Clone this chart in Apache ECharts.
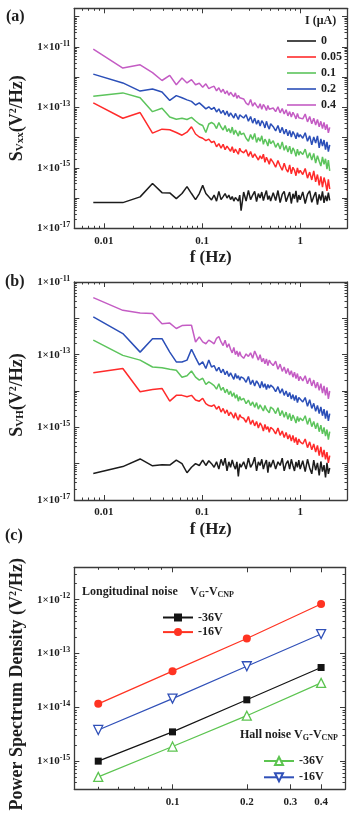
<!DOCTYPE html>
<html><head><meta charset="utf-8">
<script src="https://cdn.jsdelivr.net/npm/echarts@6/dist/echarts.min.js"></script>
<style>html,body{margin:0;padding:0;background:#fff}#c{width:349px;height:815px}</style>
</head><body><div id="c"></div>
<script>
// ---------- data ----------
// frequency bins (Hz) shared by panels (a) and (b)
const FREQ = [
  0.0078,0.0156,0.0234,0.0313,0.0391,0.0469,0.0547,0.0625,0.0703,0.0781,0.0859,0.0938,0.1016,0.1094,0.1172,0.125,
  0.1328,0.1406,0.1484,0.1563,0.1641,0.1719,0.1797,0.1875,0.1953,0.2031,0.2109,0.2188,0.2266,0.2344,0.2422,0.25,
  0.2656,0.2813,0.2969,0.3125,0.3281,0.3438,0.3594,0.375,0.3906,0.4063,0.4219,0.4375,0.4531,0.4688,0.4844,0.5,
  0.5313,0.5625,0.5938,0.625,0.6563,0.6875,0.7188,0.75,0.7813,0.8125,0.8438,0.875,0.9063,0.9375,0.9688,1.0,
  1.0625,1.125,1.1875,1.25,1.3125,1.375,1.4375,1.5,1.5625,1.625,1.6875,1.75,1.8125,1.875,1.9375,2.0];

// panel (a): log10 of S_Vxx (V^2/Hz) for each current
const A_I0 = [
  -16.15,-16.15,-15.96,-15.52,-15.82,-15.83,-16.02,-15.85,-15.62,-15.85,-16.05,-15.85,-15.58,-15.85,-15.96,-16.06,
  -15.9,-16.1,-15.78,-16.05,-15.95,-15.85,-16.0,-15.9,-16.05,-15.95,-16.1,-15.98,-16.0,-16.1,-15.9,-16.42,
  -15.8,-16.1,-15.75,-16.05,-15.9,-15.78,-16.12,-15.85,-16.0,-15.8,-16.08,-15.9,-15.75,-16.05,-15.92,-16.1,
  -15.82,-16.08,-15.75,-16.15,-15.88,-15.78,-16.12,-15.95,-15.8,-16.18,-15.86,-16.02,-15.76,-16.14,-15.9,-16.06,
  -15.8,-16.18,-15.88,-15.76,-16.14,-15.95,-15.8,-16.22,-15.88,-16.08,-15.78,-16.16,-15.92,-16.1,-15.82,-16.08];
const A_I005 = [
  -12.85,-13.36,-13.17,-13.85,-13.72,-13.74,-13.83,-13.92,-13.82,-13.64,-13.88,-13.98,-14.02,-14.1,-14.05,-14.16,
  -14.12,-14.3,-14.2,-14.35,-14.22,-14.4,-14.28,-14.33,-14.45,-14.3,-14.5,-14.38,-14.42,-14.55,-14.35,-14.45,
  -14.5,-14.4,-14.62,-14.46,-14.66,-14.54,-14.5,-14.74,-14.6,-14.7,-14.55,-14.82,-14.65,-14.76,-14.88,-14.7,
  -14.82,-14.98,-14.76,-14.94,-15.08,-14.85,-15.04,-15.14,-14.9,-15.2,-14.98,-15.08,-15.26,-15.0,-15.18,-15.08,
  -15.22,-15.02,-15.34,-15.14,-15.4,-15.1,-15.46,-15.22,-15.58,-15.28,-15.64,-15.32,-15.5,-15.76,-15.38,-15.7];
const A_I01 = [
  -12.63,-12.52,-12.68,-13.14,-13.03,-13.32,-13.39,-13.36,-13.4,-13.33,-13.45,-13.55,-13.6,-13.83,-13.55,-13.5,
  -13.55,-13.7,-13.5,-13.65,-13.75,-13.6,-13.8,-13.7,-13.85,-13.65,-13.9,-13.75,-13.8,-13.95,-13.78,-13.9,
  -13.85,-14.02,-14.12,-13.9,-14.06,-13.86,-14.16,-14.0,-14.12,-13.94,-14.22,-14.05,-14.14,-14.28,-14.04,-14.2,
  -14.1,-14.32,-14.18,-14.38,-14.14,-14.42,-14.26,-14.48,-14.28,-14.54,-14.34,-14.44,-14.62,-14.38,-14.58,-14.46,
  -14.56,-14.38,-14.68,-14.5,-14.74,-14.52,-14.84,-14.6,-14.78,-14.94,-14.64,-14.88,-14.7,-15.04,-14.74,-15.1];
const A_I02 = [
  -11.9,-12.19,-12.46,-12.39,-12.49,-12.77,-12.61,-12.68,-12.75,-12.8,-12.92,-12.85,-12.95,-13.05,-12.98,-13.07,
  -13.0,-13.15,-13.05,-13.2,-13.1,-13.25,-13.12,-13.3,-13.18,-13.22,-13.35,-13.2,-13.3,-13.4,-13.25,-13.28,
  -13.35,-13.24,-13.46,-13.3,-13.52,-13.36,-13.56,-13.42,-13.62,-13.44,-13.52,-13.68,-13.46,-13.62,-13.72,-13.54,
  -13.64,-13.78,-13.6,-13.84,-13.66,-13.88,-13.72,-13.94,-13.76,-13.98,-13.8,-13.9,-14.04,-13.84,-13.98,-13.9,
  -14.02,-13.84,-14.12,-13.94,-14.24,-13.98,-14.18,-13.94,-14.34,-14.04,-14.28,-14.08,-14.4,-14.14,-14.46,-14.24];
const A_I04 = [
  -11.07,-11.7,-11.59,-11.85,-12.11,-11.94,-12.25,-12.03,-12.19,-12.08,-12.25,-12.2,-12.33,-12.22,-12.38,-12.33,
  -12.3,-12.45,-12.35,-12.5,-12.4,-12.55,-12.45,-12.6,-12.5,-12.55,-12.65,-12.52,-12.7,-12.6,-12.68,-12.63,
  -12.72,-12.86,-12.92,-12.74,-12.96,-12.84,-12.94,-13.02,-12.88,-13.06,-12.9,-12.98,-13.1,-12.94,-13.06,-13.0,
  -13.02,-13.14,-12.98,-13.18,-13.04,-13.22,-13.08,-13.28,-13.14,-13.32,-13.16,-13.26,-13.38,-13.2,-13.34,-13.28,
  -13.38,-13.22,-13.48,-13.3,-13.54,-13.36,-13.58,-13.4,-13.64,-13.46,-13.7,-13.5,-13.74,-13.56,-13.84,-13.66];

// panel (b): log10 of S_VH (V^2/Hz)
const B_I0 = [
  -16.27,-16.08,-15.87,-16.06,-16.03,-16.04,-15.9,-16.0,-16.25,-16.1,-16.0,-16.05,-15.9,-16.05,-15.92,-16.0,
  -16.1,-15.95,-16.15,-15.88,-16.05,-15.85,-16.2,-15.95,-16.1,-15.9,-16.05,-16.15,-15.95,-16.35,-16.0,-16.1,
  -15.95,-16.15,-15.85,-16.1,-16.0,-15.82,-16.2,-15.95,-16.05,-15.88,-16.15,-16.0,-15.9,-16.25,-15.95,-16.1,
  -15.9,-16.15,-15.95,-16.05,-15.85,-16.2,-16.0,-15.92,-16.15,-15.88,-16.05,-16.2,-15.95,-16.1,-15.9,-16.15,
  -15.92,-16.22,-15.88,-16.12,-16.28,-15.9,-16.18,-15.98,-16.32,-15.94,-16.22,-16.04,-16.38,-15.98,-16.28,-16.12];
const B_I005 = [
  -13.5,-13.38,-14.02,-13.96,-13.93,-14.28,-14.12,-14.12,-14.16,-14.12,-14.25,-14.28,-14.2,-14.35,-14.4,-14.42,
  -14.38,-14.5,-14.42,-14.58,-14.48,-14.62,-14.52,-14.68,-14.58,-14.65,-14.75,-14.6,-14.72,-14.8,-14.65,-14.72,
  -14.75,-14.86,-14.7,-14.92,-14.8,-14.96,-14.84,-15.02,-14.88,-14.96,-15.1,-14.92,-15.06,-14.98,-15.14,-15.0,
  -15.06,-15.18,-15.02,-15.22,-15.1,-15.28,-15.14,-15.32,-15.2,-15.38,-15.22,-15.42,-15.28,-15.48,-15.32,-15.4,
  -15.46,-15.32,-15.56,-15.4,-15.62,-15.46,-15.68,-15.5,-15.78,-15.54,-15.82,-15.62,-15.88,-15.68,-15.98,-15.78];
const B_I01 = [
  -12.6,-13.02,-13.15,-13.34,-13.36,-13.4,-13.43,-13.62,-13.58,-13.45,-13.62,-13.7,-13.65,-13.82,-13.75,-13.8,
  -13.85,-13.95,-13.8,-13.98,-13.9,-14.05,-13.95,-14.1,-14.0,-14.15,-14.05,-14.2,-14.1,-14.28,-14.15,-14.25,
  -14.2,-14.35,-14.25,-14.4,-14.3,-14.45,-14.32,-14.5,-14.38,-14.42,-14.55,-14.4,-14.5,-14.45,-14.6,-14.44,
  -14.5,-14.62,-14.46,-14.68,-14.54,-14.72,-14.58,-14.78,-14.62,-14.82,-14.66,-14.76,-14.88,-14.7,-14.84,-14.74,
  -14.82,-14.68,-14.92,-14.74,-14.98,-14.84,-15.04,-14.88,-15.12,-14.94,-15.18,-15.0,-15.24,-15.06,-15.34,-15.12];
const B_I02 = [
  -11.96,-12.42,-12.93,-12.56,-12.56,-12.93,-13.2,-13.2,-13.15,-12.85,-13.08,-13.28,-13.2,-13.38,-13.15,-13.34,
  -13.3,-13.45,-13.35,-13.5,-13.4,-13.55,-13.45,-13.6,-13.5,-13.55,-13.68,-13.52,-13.65,-13.58,-13.7,-13.61,
  -13.65,-13.76,-13.6,-13.82,-13.7,-13.86,-13.72,-13.8,-13.92,-13.74,-13.9,-13.8,-13.96,-13.82,-13.92,-13.84,
  -13.9,-14.02,-13.88,-14.06,-13.94,-14.12,-14.0,-14.16,-14.04,-14.22,-14.1,-14.26,-14.12,-14.32,-14.18,-14.22,
  -14.3,-14.18,-14.42,-14.24,-14.48,-14.34,-14.56,-14.4,-14.62,-14.44,-14.68,-14.5,-14.76,-14.54,-14.82,-14.62];
const B_I04 = [
  -11.43,-11.78,-11.85,-11.87,-12.15,-12.13,-12.28,-12.2,-12.19,-12.19,-12.65,-12.51,-12.65,-12.7,-12.6,-12.65,
  -12.7,-12.55,-12.5,-12.65,-12.75,-12.6,-12.8,-12.7,-12.85,-12.95,-12.8,-13.0,-12.9,-13.05,-12.92,-13.03,
  -13.1,-12.98,-13.05,-12.95,-13.1,-12.9,-13.02,-13.15,-13.0,-13.2,-13.1,-13.25,-13.12,-13.3,-13.15,-13.22,
  -13.3,-13.18,-13.4,-13.26,-13.46,-13.34,-13.52,-13.38,-13.56,-13.44,-13.62,-13.48,-13.66,-13.52,-13.72,-13.6,
  -13.72,-13.58,-13.8,-13.64,-13.86,-13.7,-13.92,-13.76,-13.98,-13.8,-14.06,-13.86,-14.12,-13.9,-14.22,-14.0];

const CURRENT_NAMES = ['0', '0.05', '0.1', '0.2', '0.4'];

// panel (c): power spectrum density vs current (uA)
const C_CURRENT = [0.05, 0.1, 0.2, 0.4];
const C_LONG_36 = [1.0e-15, 3.5e-15, 1.38e-14, 5.5e-14];
const C_LONG_16 = [1.16e-14, 4.7e-14, 1.9e-13, 8.3e-13];
const C_HALL_36 = [5.1e-16, 1.87e-15, 7.0e-15, 2.85e-14];
const C_HALL_16 = [3.8e-15, 1.45e-14, 5.8e-14, 2.3e-13];

// tick labels
const X_LABELS_AB = [0.01, 0.1, 1];
const Y_LABELS_AB = [1e-17, 1e-15, 1e-13, 1e-11];
const X_LABELS_C = [0.1, 0.2, 0.3, 0.4];
const Y_LABELS_C = [1e-15, 1e-14, 1e-13, 1e-12];

// ---------- styling ----------
const SERIF = "'Liberation Serif','Times New Roman',serif";
const AX = '#3a3a3a';
const TXT = '#1e1e1e';
const COLS_AB = ['#1c1c1c', '#ff2b2b', '#5cc45c', '#2b4fb8', '#c45cc4'];

function decadeTicks(lo, hi, ks) {
  const out = [];
  for (let e = -18; e <= 1; e++) {
    for (const k of ks) {
      const v = +(k * Math.pow(10, e)).toPrecision(4);
      if (v >= lo * 0.9999 && v <= hi * 1.0001) out.push(v);
    }
  }
  return out;
}
const expFmt = v => '{b|1×10}{s|' + Math.round(Math.log10(v)) + '}';
const numFmt = v => String(+(+v).toPrecision(2));
const labelRich = {
  b: { fontSize: 11, fontWeight: 'bold', fontFamily: SERIF, color: TXT },
  s: { fontSize: 8, fontWeight: 'bold', fontFamily: SERIF, color: TXT, padding: [0, 0, 7, 0] }
};

function axisSet(dim, grid, min, max, major, minor, labels, fmt, nameCfg) {
  const posA = dim === 'x' ? 'bottom' : 'left';
  const posB = dim === 'x' ? 'top' : 'right';
  const base = { type: 'log', logBase: 10, gridIndex: grid, min: min, max: max,
    splitLine: { show: false }, minorTick: { show: false }, minorSplitLine: { show: false } };
  const tick = (vals, len) => ({ show: true, inside: true, length: len, customValues: vals,
    lineStyle: { color: AX, width: 1 } });
  const line = { show: true, lineStyle: { color: AX, width: 1.3 } };
  const main = Object.assign({}, base, {
    position: posA, axisLine: line, axisTick: tick(major, 5),
    axisLabel: { show: true, customValues: labels, formatter: fmt,
      margin: dim === 'x' ? 7 : 4, fontSize: 11, fontWeight: 'bold', fontFamily: SERIF, color: TXT, rich: labelRich }
  }, nameCfg || {});
  return [
    main,
    Object.assign({}, base, { position: posA, axisLine: { show: false }, axisTick: tick(minor, 2.5), axisLabel: { show: false } }),
    Object.assign({}, base, { position: posB, axisLine: line, axisTick: tick(major, 5), axisLabel: { show: false } }),
    Object.assign({}, base, { position: posB, axisLine: { show: false }, axisTick: tick(minor, 2.5), axisLabel: { show: false } })
  ];
}

const titleRich = {
  m: { fontSize: 18, fontWeight: 'bold', fontFamily: SERIF, color: TXT },
  d: { fontSize: 11, fontWeight: 'bold', fontFamily: SERIF, color: TXT, padding: [7, 0, 0, 0] },
  u: { fontSize: 10, fontWeight: 'bold', fontFamily: SERIF, color: TXT, padding: [0, 0, 8, 0] }
};
const fName = { name: 'f (Hz)', nameLocation: 'middle', nameGap: 21,
  nameTextStyle: { fontSize: 17, fontWeight: 'bold', fontFamily: SERIF, color: TXT } };
const yName = (txt, gap, pad) => ({ name: txt, nameLocation: 'middle', nameRotate: 90, nameGap: gap,
  nameTextStyle: { rich: titleRich, padding: pad || 0 } });

const ks1 = [1], ks29 = [2, 3, 4, 5, 6, 7, 8, 9];
const X_AB = [0.005, 3], Y_A = [1e-17, 1.9e-10], Y_B = [1e-17, 1e-11];
const X_C = [0.04, 0.5], Y_C = [3e-16, 4e-12];

const xAxes = [].concat(
  axisSet('x', 0, X_AB[0], X_AB[1], decadeTicks(X_AB[0], X_AB[1], ks1), decadeTicks(X_AB[0], X_AB[1], ks29), X_LABELS_AB, numFmt, fName),
  axisSet('x', 1, X_AB[0], X_AB[1], decadeTicks(X_AB[0], X_AB[1], ks1), decadeTicks(X_AB[0], X_AB[1], ks29), X_LABELS_AB, numFmt, fName),
  axisSet('x', 2, X_C[0], X_C[1], [0.1, 0.2, 0.3, 0.4, 0.5], [0.04, 0.05, 0.06, 0.07, 0.08, 0.09], X_LABELS_C, numFmt, null)
);
const yAxes = [].concat(
  axisSet('y', 0, Y_A[0], Y_A[1], decadeTicks(Y_A[0], Y_A[1], ks1), decadeTicks(Y_A[0], Y_A[1], ks29), Y_LABELS_AB, expFmt,
    yName('{m|S}{d|Vxx}{m|(V}{u|2}{m|/Hz)}', 46)),
  axisSet('y', 1, Y_B[0], Y_B[1], decadeTicks(Y_B[0], Y_B[1], ks1), decadeTicks(Y_B[0], Y_B[1], ks29), Y_LABELS_AB, expFmt,
    yName('{m|S}{d|VH}{m|(V}{u|2}{m|/Hz)}', 46, [0, 8, 0, 0])),
  axisSet('y', 2, Y_C[0], Y_C[1], decadeTicks(Y_C[0], Y_C[1], ks1), decadeTicks(Y_C[0], Y_C[1], ks29), Y_LABELS_C, expFmt,
    yName('{m|Power Spectrum Density (V}{u|2}{m|/Hz)}', 46, [0, 12, 0, 0]))
);

function specSeries(name, logs, color, gi) {
  return { name: name, type: 'line', xAxisIndex: gi * 4, yAxisIndex: gi * 4,
    data: FREQ.map((f, i) => [f, Math.pow(10, logs[i])]),
    symbol: 'none', showSymbol: false, silent: true,
    lineStyle: { color: color, width: 1.5 }, itemStyle: { color: color } };
}
const A_SETS = [A_I0, A_I005, A_I01, A_I02, A_I04];
const B_SETS = [B_I0, B_I005, B_I01, B_I02, B_I04];
const series = [];
A_SETS.forEach((s, i) => series.push(specSeries(CURRENT_NAMES[i], s, COLS_AB[i], 0)));
B_SETS.forEach((s, i) => series.push(specSeries('b' + CURRENT_NAMES[i], s, COLS_AB[i], 1)));

function cSeries(name, vals, color, symbol, size, rot, hollow) {
  return { name: name, type: 'line', xAxisIndex: 8, yAxisIndex: 8,
    data: C_CURRENT.map((c, i) => [c, vals[i]]),
    symbol: symbol, symbolSize: size, symbolRotate: rot, showSymbol: true, silent: true,
    lineStyle: { color: color, width: 1.2 },
    itemStyle: hollow ? { color: '#fff', borderColor: color, borderWidth: 1.3 } : { color: color } };
}
series.push(cSeries('L-36V', C_LONG_36, '#141414', 'rect', 7, 0, false));
series.push(cSeries('L-16V', C_LONG_16, '#ff3322', 'circle', 8, 0, false));
series.push(cSeries('H-36V', C_HALL_36, '#5cc450', 'triangle', 9, 0, true));
series.push(cSeries('H-16V', C_HALL_16, '#3050b8', 'triangle', 9, 180, true));

const legText = { fontFamily: SERIF, fontWeight: 'bold', fontSize: 12, color: TXT, lineHeight: 13 };
const subRich = {
  m: { fontSize: 12, fontWeight: 'bold', fontFamily: SERIF, fill: TXT },
  d: { fontSize: 8, fontWeight: 'bold', fontFamily: SERIF, fill: TXT, padding: [6, 0, 0, 0] }
};

const option = {
  animation: false,
  backgroundColor: '#fff',
  grid: [
    { left: 71, top: 8.3, width: 276, height: 220 },
    { left: 71, top: 282, width: 276, height: 218 },
    { left: 71, top: 567.3, width: 274, height: 222 }
  ],
  xAxis: xAxes,
  yAxis: yAxes,
  legend: [
    { data: CURRENT_NAMES, left: 282, top: 29.5, orient: 'vertical', icon: 'rect', itemWidth: 29, itemHeight: 1.6,
      itemGap: 3, selectedMode: false, textStyle: legText },
    { data: ['L-36V', 'L-16V'], left: 157, top: 606, orient: 'vertical', itemWidth: 30, itemHeight: 10,
      itemGap: 1.6, selectedMode: false, textStyle: legText, formatter: n => n.slice(1) },
    { data: ['H-36V', 'H-16V'], left: 258, top: 749.5, orient: 'vertical', itemWidth: 30, itemHeight: 10,
      itemGap: 3.3, selectedMode: false, textStyle: legText, formatter: n => n.slice(1) }
  ],
  graphic: [
    { type: 'text', left: 6, top: 9, style: { text: '(a)', font: 'bold 16px ' + SERIF, fill: TXT } },
    { type: 'text', left: 5, top: 274, style: { text: '(b)', font: 'bold 16px ' + SERIF, fill: TXT } },
    { type: 'text', left: 5, top: 528, style: { text: '(c)', font: 'bold 16px ' + SERIF, fill: TXT } },
    { type: 'text', left: 305, top: 15, style: { text: 'I (μA)', font: 'bold 12px ' + SERIF, fill: TXT } },
    { type: 'text', left: 82, top: 586, style: { text: 'Longitudinal noise', font: 'bold 12px ' + SERIF, fill: TXT } },
    { type: 'text', left: 190, top: 586, style: { text: '{m|V}{d|G}{m|-V}{d|CNP}', rich: subRich } },
    { type: 'text', left: 240, top: 729, style: { text: '{m|Hall noise V}{d|G}{m|-V}{d|CNP}', rich: subRich } }
  ],
  series: series
};
const chart = echarts.init(document.getElementById('c'), null, { renderer: 'canvas' });
chart.setOption(option);
</script>
</body></html>
